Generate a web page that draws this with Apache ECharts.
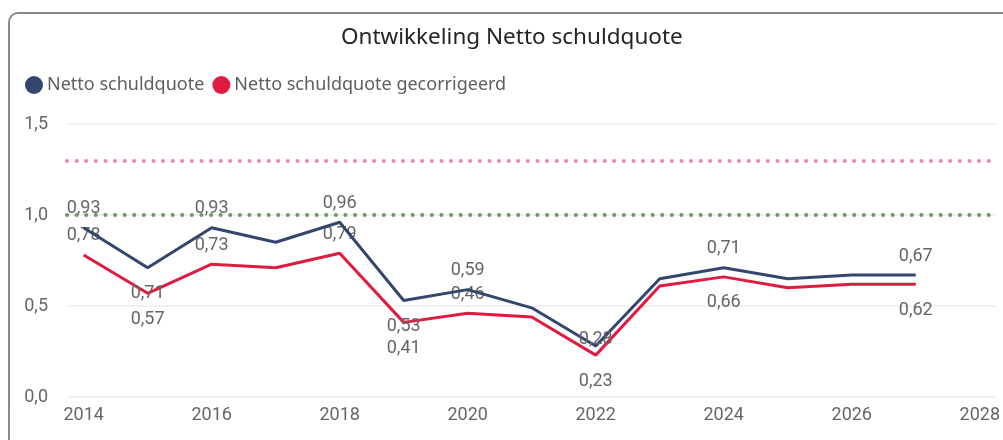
<!DOCTYPE html>
<html>
<head>
<meta charset="utf-8">
<script src="https://cdn.jsdelivr.net/npm/echarts@6/dist/echarts.min.js"></script>
<style>
  html, body { margin: 0; padding: 0; background: #fff; }
  #chart { width: 1003px; height: 440px; }
</style>
</head>
<body>
<div id="chart"></div>
<script>
// jaren en waarden
const years = [2014, 2015, 2016, 2017, 2018, 2019, 2020, 2021, 2022, 2023, 2024, 2025, 2026, 2027];
const schuldquote = [0.93, 0.71, 0.93, 0.85, 0.96, 0.53, 0.59, 0.49, 0.28, 0.65, 0.71, 0.65, 0.67, 0.67];
const gecorrigeerd = [0.78, 0.57, 0.73, 0.71, 0.79, 0.41, 0.46, 0.44, 0.23, 0.61, 0.66, 0.60, 0.62, 0.62];
const xTicks = [2014, 2016, 2018, 2020, 2022, 2024, 2026, 2028];
const normLines = [1.3, 1.0];

// welke punten een label krijgen (zoals in het origineel)
const labelYears = [2014, 2015, 2016, 2018, 2019, 2020, 2022, 2024, 2027];
const blueBelow = [2015, 2019];
const redBelow = [2015, 2019, 2022, 2024, 2027];

const fmt = v => v.toFixed(2).replace('.', ',');
const numFont = 'Roboto, sans-serif';
const textFont = '"Noto Sans", sans-serif';

function buildData(values, below, tightTop) {
  return years.map((y, i) => {
    const item = { value: [y, values[i]] };
    if (labelYears.includes(y)) {
      const isBelow = below.includes(y);
      item.label = {
        show: true,
        position: isBelow ? 'bottom' : 'top',
        distance: isBelow ? 17 : (tightTop && tightTop.includes(y) ? -3 : 10)
      };
    }
    return item;
  });
}

const chart = echarts.init(document.getElementById('chart'));

const labelStyle = {
  formatter: p => fmt(p.value[1]),
  fontFamily: numFont,
  fontSize: 18,
  color: '#666'
};

const option = {
  animation: false,
  title: {
    text: 'Ontwikkeling Netto schuldquote',
    left: 341,
    top: 26,
    padding: 0,
    textStyle: { fontFamily: textFont, fontSize: 22.5, fontWeight: 'normal', color: '#252423' }
  },
  legend: {
    left: 25,
    top: 76,
    padding: 0,
    icon: 'circle',
    itemWidth: 18,
    itemHeight: 18,
    itemGap: 8,
    textStyle: { fontFamily: textFont, fontSize: 18, color: '#605e5c', padding: [0, 0, 0, -1] }
  },
  graphic: [{
    type: 'rect',
    shape: { x: 9, y: 13, width: 1010, height: 450, r: 9 },
    style: { fill: 'none', stroke: '#8a8a8a', lineWidth: 2 },
    silent: true
  }],
  grid: { left: 67, right: 2, top: 124, bottom: 43 },
  xAxis: {
    type: 'value',
    min: 2013.74,
    max: 2028.26,
    axisLine: { show: false },
    axisTick: { show: false },
    splitLine: { show: false },
    axisLabel: {
      customValues: xTicks,
      formatter: v => String(v),
      margin: 9,
      fontFamily: numFont,
      fontSize: 18,
      color: '#666'
    }
  },
  yAxis: {
    type: 'value',
    min: 0,
    max: 1.5,
    interval: 0.5,
    axisLine: { show: false },
    axisTick: { show: false },
    splitLine: { lineStyle: { color: '#ececec', width: 1.5 } },
    axisLabel: {
      formatter: v => v.toFixed(1).replace('.', ','),
      margin: 19,
      fontFamily: numFont,
      fontSize: 18,
      color: '#666'
    }
  },
  series: [
    {
      name: 'Netto schuldquote',
      type: 'line',
      data: buildData(schuldquote, blueBelow, [2022]),
      symbol: 'circle',
      symbolSize: 0.1,
      showAllSymbol: true,
      color: '#34466e',
      lineStyle: { width: 3, color: '#34466e' },
      label: labelStyle,
      z: 3,
      markLine: {
        silent: true,
        symbol: 'none',
        label: { show: false },
        data: [
          { yAxis: normLines[0], lineStyle: { color: '#e8909f' } },
          { yAxis: normLines[1], lineStyle: { color: '#6d9b5f' } }
        ],
        lineStyle: { type: [0.1, 9.5], width: 4, cap: 'round' }
      }
    },
    {
      name: 'Netto schuldquote gecorrigeerd',
      type: 'line',
      data: buildData(gecorrigeerd, redBelow),
      symbol: 'circle',
      symbolSize: 0.1,
      showAllSymbol: true,
      color: '#e01b40',
      lineStyle: { width: 3, color: '#e01b40' },
      label: labelStyle,
      z: 2
    }
  ]
};

option && chart.setOption(option);
</script>
</body>
</html>
